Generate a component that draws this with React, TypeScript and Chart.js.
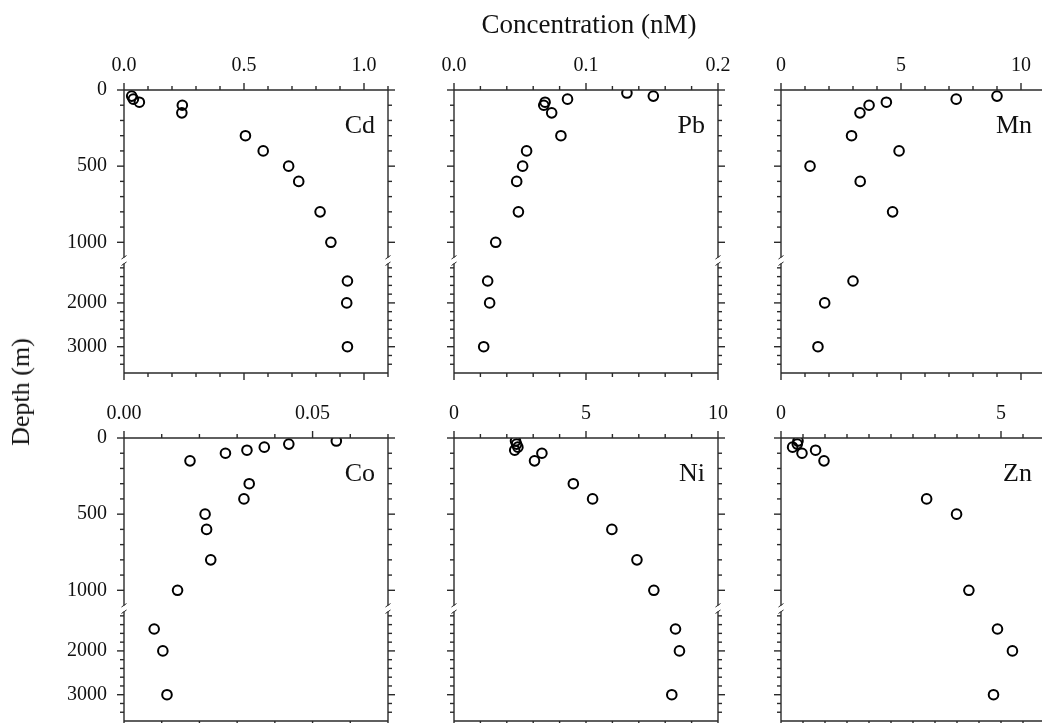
import React, { useEffect, useRef } from 'react';
import { Chart, registerables, LinearScale } from 'chart.js';

Chart.register(...registerables);

// ---------------- data ----------------
const depthsCd = [40, 60, 80, 100, 150, 300, 400, 500, 600, 800, 1000, 1500, 2000, 3000];
const concCd = [0.032, 0.039, 0.064, 0.243, 0.241, 0.506, 0.58, 0.686, 0.728, 0.817, 0.862, 0.931, 0.928, 0.931];

const depthsPb = [20, 40, 60, 80, 100, 150, 300, 400, 500, 600, 800, 1000, 1500, 2000, 3000];
const concPb = [0.131, 0.151, 0.086, 0.069, 0.068, 0.074, 0.081, 0.055, 0.052, 0.0475, 0.0488, 0.0316, 0.0255, 0.027, 0.0225];

const depthsMn = [40, 60, 80, 100, 150, 300, 400, 500, 600, 800, 1500, 2000, 3000];
const concMn = [9.0, 7.3, 4.39, 3.67, 3.29, 2.94, 4.92, 1.21, 3.3, 4.65, 3.0, 1.82, 1.54];

const depthsCo = [20, 40, 60, 80, 100, 150, 300, 400, 500, 600, 800, 1000, 1500, 2000, 3000];
const concCo = [0.0563, 0.0437, 0.0372, 0.0326, 0.0269, 0.0175, 0.0332, 0.0318, 0.0215, 0.0219, 0.023, 0.0142, 0.008, 0.0103, 0.0114];

const depthsNi = [20, 40, 60, 80, 100, 150, 300, 400, 600, 800, 1000, 1500, 2000, 3000];
const concNi = [2.33, 2.37, 2.42, 2.3, 3.33, 3.05, 4.52, 5.25, 5.98, 6.93, 7.57, 8.39, 8.54, 8.25];

const depthsZn = [20, 40, 60, 80, 100, 150, 400, 500, 1000, 1500, 2000, 3000];
const concZn = [0.386, 0.37, 0.264, 0.786, 0.477, 0.977, 3.31, 3.99, 4.27, 4.92, 5.26, 4.83];

// x-axis ticks per element
const xTicksCd = [0, 0.5, 1.0];
const xLabelsCd = ['0.0', '0.5', '1.0'];
const xTicksPb = [0, 0.1, 0.2];
const xLabelsPb = ['0.0', '0.1', '0.2'];
const xTicksMn = [0, 5, 10];
const xLabelsMn = ['0', '5', '10'];
const xTicksCo = [0, 0.05];
const xLabelsCo = ['0.00', '0.05'];
const xTicksNi = [0, 5, 10];
const xLabelsNi = ['0', '5', '10'];
const xTicksZn = [0, 5];
const xLabelsZn = ['0', '5'];

// depth axis ticks
const depthTicks = [0, 500, 1000, 2000, 3000];
const depthLabels = ['0', '500', '1000', '2000', '3000'];
const depthMinorUpper = [0, 100, 200, 300, 400, 500, 600, 700, 800, 900, 1000];
const depthMinorLower = [1200, 1400, 1600, 1800, 2000, 2200, 2400, 2600, 2800, 3000, 3200, 3400];

const TITLE_TEXT = 'Concentration (nM)';
const DEPTH_TEXT = 'Depth (m)';

// ---------------- broken depth scale ----------------
const BREAK_DEPTH = 1100;
const MAX_DEPTH = 3600;
const UPPER_FRACTION = 0.592;
const GAP_FRACTION = 0.021;
const LOWER_START = UPPER_FRACTION + GAP_FRACTION;

function depthToDecimal(v: number) {
  if (v <= BREAK_DEPTH) return (v / BREAK_DEPTH) * UPPER_FRACTION;
  return LOWER_START + ((v - BREAK_DEPTH) / (MAX_DEPTH - BREAK_DEPTH)) * (1 - LOWER_START);
}
function decimalToDepth(d: number) {
  if (d <= UPPER_FRACTION) return (d / UPPER_FRACTION) * BREAK_DEPTH;
  if (d < LOWER_START) return BREAK_DEPTH;
  return BREAK_DEPTH + ((d - LOWER_START) / (1 - LOWER_START)) * (MAX_DEPTH - BREAK_DEPTH);
}

class BrokenDepthScale extends LinearScale {
  static id = 'brokenDepth';
  static defaults = { ...(LinearScale as any).defaults };
  getPixelForValue(value: any) {
    if (value === null || value === undefined || Number.isNaN(value)) return NaN;
    return (this as any).getPixelForDecimal(depthToDecimal(value));
  }
  getValueForPixel(pixel: number) {
    return decimalToDepth((this as any).getDecimalForPixel(pixel));
  }
}
Chart.register(BrokenDepthScale as any);

// ---------------- layout / style ----------------
const FONT = "'Liberation Serif', 'Times New Roman', serif";
const AXIS_COLOR = '#2a2a2a';
const TEXT_COLOR = '#111111';
const PLOT_W = 264;
const PLOT_H = 283;
const Y_AXIS_W = 100;
const X_AXIS_H = 70;
const PAD_R = 45;
const PAD_B = 45;
const COL_LEFT = [124, 454, 781];
const ROW_TOP = [90, 438];
const MAJOR_LEN = 7;
const MINOR_LEN = 4;

type Spec = {
  name: string;
  depths: number[];
  conc: number[];
  xMin: number;
  xMax: number;
  xStep: number;
  xTicks: number[];
  xLabels: string[];
  col: number;
  row: number;
};

const panels: Spec[] = [
  { name: 'Cd', depths: depthsCd, conc: concCd, xMin: 0, xMax: 1.1, xStep: 0.1, xTicks: xTicksCd, xLabels: xLabelsCd, col: 0, row: 0 },
  { name: 'Pb', depths: depthsPb, conc: concPb, xMin: 0, xMax: 0.2, xStep: 0.02, xTicks: xTicksPb, xLabels: xLabelsPb, col: 1, row: 0 },
  { name: 'Mn', depths: depthsMn, conc: concMn, xMin: 0, xMax: 11, xStep: 1, xTicks: xTicksMn, xLabels: xLabelsMn, col: 2, row: 0 },
  { name: 'Co', depths: depthsCo, conc: concCo, xMin: 0, xMax: 0.07, xStep: 0.01, xTicks: xTicksCo, xLabels: xLabelsCo, col: 0, row: 1 },
  { name: 'Ni', depths: depthsNi, conc: concNi, xMin: 0, xMax: 10, xStep: 1, xTicks: xTicksNi, xLabels: xLabelsNi, col: 1, row: 1 },
  { name: 'Zn', depths: depthsZn, conc: concZn, xMin: 0, xMax: 6, xStep: 0.5, xTicks: xTicksZn, xLabels: xLabelsZn, col: 2, row: 1 },
];

function seg(ctx: CanvasRenderingContext2D, x1: number, y1: number, x2: number, y2: number) {
  ctx.beginPath();
  ctx.moveTo(x1, y1);
  ctx.lineTo(x2, y2);
  ctx.stroke();
}

function framePlugin(spec: Spec) {
  return {
    id: 'frame' + spec.name,
    afterDraw(chart: any) {
      const ctx: CanvasRenderingContext2D = chart.ctx;
      const a = chart.chartArea;
      const xs = chart.scales.x;
      const ys = chart.scales.y;
      const yBreakTop = ys.getPixelForValue(BREAK_DEPTH);
      const yBreakBot = ys.getPixelForDecimal(LOWER_START);
      ctx.save();
      ctx.strokeStyle = AXIS_COLOR;
      ctx.lineWidth = 1.4;
      ctx.lineCap = 'butt';
      // frame
      seg(ctx, a.left, a.top, a.right, a.top);
      seg(ctx, a.left, a.bottom, a.right, a.bottom);
      for (const x of [a.left, a.right]) {
        seg(ctx, x, a.top, x, yBreakTop);
        seg(ctx, x, yBreakBot, x, a.bottom);
      }
      // x ticks (top and bottom, outward)
      const n = Math.round((spec.xMax - spec.xMin) / spec.xStep);
      for (let i = 0; i <= n; i++) {
        const v = spec.xMin + i * spec.xStep;
        const major = spec.xTicks.some((t) => Math.abs(t - v) < spec.xStep / 10);
        const len = major ? MAJOR_LEN : MINOR_LEN;
        const px = xs.getPixelForValue(v);
        seg(ctx, px, a.top, px, a.top - len);
        seg(ctx, px, a.bottom, px, a.bottom + len);
      }
      // depth ticks (left and right, outward)
      for (const d of [...depthMinorUpper, ...depthMinorLower]) {
        const major = depthTicks.includes(d);
        const len = major ? MAJOR_LEN : MINOR_LEN;
        const py = ys.getPixelForValue(d);
        seg(ctx, a.left, py, a.left - len, py);
        seg(ctx, a.right, py, a.right + len, py);
      }
      // break marks
      ctx.lineWidth = 1;
      for (const x of [a.left, a.right]) {
        seg(ctx, x - 2.5, yBreakTop + 1.5, x + 2.5, yBreakTop - 2);
        seg(ctx, x - 2.5, yBreakBot + 2, x + 2.5, yBreakBot - 1.5);
      }
      // element label
      ctx.fillStyle = TEXT_COLOR;
      ctx.font = `26px ${FONT}`;
      ctx.textAlign = 'right';
      ctx.textBaseline = 'alphabetic';
      ctx.fillText(spec.name, a.right - 13, a.top + 43);
      ctx.restore();
    },
  };
}

function Panel({ spec }: { spec: Spec }) {
  const ref = useRef<HTMLCanvasElement | null>(null);
  useEffect(() => {
    if (!ref.current) return;
    const showDepthLabels = spec.col === 0;
    const chart = new Chart(ref.current, {
      type: 'scatter',
      data: {
        datasets: [
          {
            label: spec.name,
            data: spec.depths.map((d, i) => ({ x: spec.conc[i], y: d })),
            pointStyle: 'circle',
            pointRadius: 4.8,
            pointHoverRadius: 4.8,
            pointBorderWidth: 2,
            pointBorderColor: '#000000',
            pointBackgroundColor: 'rgba(0,0,0,0)',
            borderColor: '#000000',
            backgroundColor: 'rgba(0,0,0,0)',
          } as any,
        ],
      },
      options: {
        responsive: false,
        maintainAspectRatio: false,
        animation: false,
        events: [],
        layout: { padding: { left: 0, top: 0, right: PAD_R, bottom: PAD_B } },
        plugins: {
          legend: { display: false },
          tooltip: { enabled: false },
          title: { display: false },
        },
        scales: {
          x: {
            type: 'linear',
            position: 'top',
            min: spec.xMin,
            max: spec.xMax,
            afterBuildTicks: (s: any) => {
              s.ticks = spec.xTicks.map((v) => ({ value: v }));
            },
            afterFit: (s: any) => {
              s.height = X_AXIS_H;
            },
            ticks: {
              autoSkip: false,
              maxRotation: 0,
              minRotation: 0,
              padding: 12,
              color: TEXT_COLOR,
              font: { family: FONT, size: 20 },
              callback: (_v: any, i: number) => spec.xLabels[i],
            },
            grid: { display: false, drawTicks: false },
            border: { display: false },
          },
          y: {
            type: 'brokenDepth',
            position: 'left',
            reverse: true,
            min: 0,
            max: MAX_DEPTH,
            afterBuildTicks: (s: any) => {
              s.ticks = depthTicks.map((v) => ({ value: v }));
            },
            afterFit: (s: any) => {
              s.width = Y_AXIS_W;
            },
            ticks: {
              display: showDepthLabels,
              autoSkip: false,
              padding: 17,
              color: TEXT_COLOR,
              font: { family: FONT, size: 20 },
              callback: (_v: any, i: number) => depthLabels[i],
            },
            grid: { display: false, drawTicks: false },
            border: { display: false },
          } as any,
        },
      },
      plugins: [framePlugin(spec)],
    } as any);
    return () => chart.destroy();
  }, [spec]);
  const left = COL_LEFT[spec.col] - Y_AXIS_W;
  const top = ROW_TOP[spec.row] - X_AXIS_H;
  return (
    <canvas
      ref={ref}
      width={Y_AXIS_W + PLOT_W + PAD_R}
      height={X_AXIS_H + PLOT_H + PAD_B}
      style={{ position: 'absolute', left, top, display: 'block' }}
    />
  );
}

export default function App() {
  return (
    <div
      style={{
        position: 'absolute',
        left: 0,
        top: 0,
        width: 1042,
        height: 723,
        overflow: 'hidden',
        background: '#ffffff',
        fontFamily: FONT,
        color: TEXT_COLOR,
      }}
    >
      {panels.map((p) => (
        <Panel key={p.name} spec={p} />
      ))}
      <div
        style={{
          position: 'absolute',
          left: 589,
          top: 24,
          transform: 'translate(-50%, -50%)',
          fontSize: 27,
          lineHeight: '27px',
          whiteSpace: 'nowrap',
        }}
      >
        {TITLE_TEXT}
      </div>
      <div
        style={{
          position: 'absolute',
          left: 21,
          top: 392,
          transform: 'translate(-50%, -50%) rotate(-90deg)',
          fontSize: 26,
          lineHeight: '26px',
          whiteSpace: 'nowrap',
        }}
      >
        {DEPTH_TEXT}
      </div>
    </div>
  );
}
